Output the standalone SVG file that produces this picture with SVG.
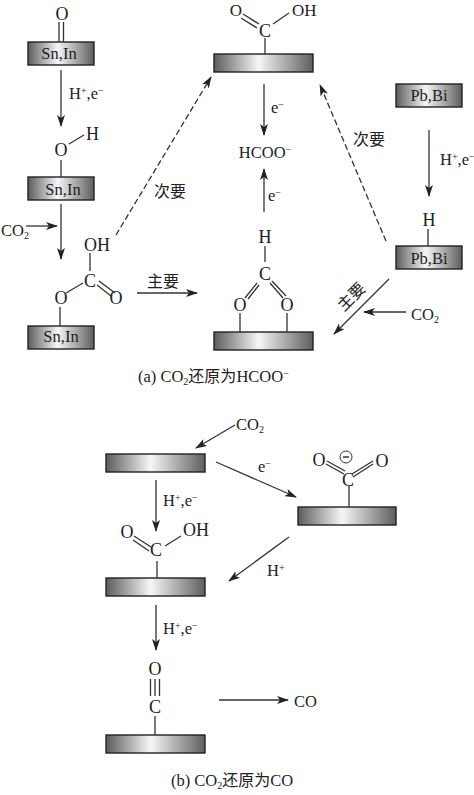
<svg xmlns="http://www.w3.org/2000/svg" width="474" height="795" viewBox="0 0 474 795">
<style>
text{font-family:"Liberation Serif","Noto Sans CJK SC",serif;font-size:16.5px;fill:#222}
.m{text-anchor:middle}
.t{font-size:18px}
.u{font-size:17px}
.s{font-size:10px}
.p{stroke:#222;stroke-width:1.4}
.b{fill:none;stroke:#333;stroke-width:1.3}
.a{fill:none;stroke:#333;stroke-width:1.3;marker-end:url(#h)}
.d{stroke-dasharray:6 3}
.c{font-family:"Noto Sans CJK SC","Liberation Serif",serif;font-size:16px}
</style>
<defs>
<linearGradient id="g1"><stop offset="0" stop-color="#5c5c5c"/><stop offset="0.45" stop-color="#f6f6f6"/><stop offset="1" stop-color="#5e5e5e"/></linearGradient>
<marker id="h" markerWidth="12" markerHeight="8" refX="11" refY="4" orient="auto" markerUnits="userSpaceOnUse"><path d="M0 0L12 4L0 8L3 4Z" fill="#222"/></marker>
</defs>
<g id="connectors">
<path class="a" d="M61 70V126"/>
<path class="a" d="M61 204V259"/>
<path class="a" d="M26 226H57"/>
<path class="a d" d="M116 235L211 77"/>
<path class="a" d="M137 293H197"/>
<path class="a" d="M264 84V135"/>
<path class="a" d="M264 212V169"/>
<path class="a d" d="M386 241L320 85"/>
<path class="a" d="M429 130V196"/>
<path class="a" d="M389 279L334 334"/>
<path class="a" d="M406 312H364"/>
<path class="a" d="M235 425L196 448"/>
<path class="a" d="M216 462L296 497"/>
<path class="a" d="M156 480V531"/>
<path class="a" d="M289 537L229 581"/>
<path class="a" d="M156 605V650"/>
<path class="a" d="M219 700H288"/>
</g>
<g id="sn-in-1"><rect class="p" x="28" y="42" width="66" height="23" fill="url(#g1)"/><text class="m" x="59" y="59">Sn,In</text><text class="m t" x="62" y="20">O</text><path class="b" d="M59 22V42M63.500 22V42"/></g>
<g id="sn-in-oh"><rect class="p" x="28" y="177" width="66" height="23" fill="url(#g1)"/><text class="m" x="63" y="195">Sn,In</text><text class="m t" x="61" y="156">O</text><text class="t" x="86" y="140">H</text><path class="b" d="M69 144L84 135M61 160V177"/></g>
<g id="sn-in-carbonate"><rect class="p" x="28" y="326" width="66" height="23" fill="url(#g1)"/><text class="m" x="61" y="342">Sn,In</text><text class="m t" x="97" y="251">OH</text><text class="m t" x="90" y="287">C</text><text class="m t" x="61" y="304">O</text><text class="m t" x="116" y="304">O</text><path class="b" d="M90 253V271M83 283L66 293M60 307V326M99 281L115 293M97 285L111 296"/></g>
<g id="plate-cooh"><rect class="p" x="214" y="54" width="99" height="18" fill="url(#g1)"/><text class="m u" x="236" y="16">O</text><text class="m t" x="265" y="37">C</text><text class="u" x="292" y="16">OH</text><path class="b" d="M243 14L259 24M241 18L257 28M273 24L289 13M265 38V54"/></g>
<g id="hcoo"><text class="m" x="265" y="158">HCOO<tspan class="s" dy="-5">−</tspan></text></g>
<g id="plate-bidentate"><rect class="p" x="214" y="332" width="99" height="18" fill="url(#g1)"/><text class="m t" x="265" y="243">H</text><text class="m t" x="265" y="280">C</text><text class="m t" x="240" y="311">O</text><text class="m t" x="287" y="311">O</text><path class="b" d="M265 246V262M257 283L245 298M259 285L248 299M270 283L283 298M272 281L286 296M240 313V332M287 313V332"/></g>
<g id="pb-bi-1"><rect class="p" x="396" y="84" width="66" height="23" fill="url(#g1)"/><text class="m" x="429" y="101">Pb,Bi</text></g>
<g id="pb-bi-h"><rect class="p" x="396" y="246" width="66" height="23" fill="url(#g1)"/><text class="m" x="429" y="264">Pb,Bi</text><text class="m t" x="429" y="226">H</text><path class="b" d="M428 229V246"/></g>
<g id="plate-b1"><rect class="p" x="106" y="454" width="99" height="18" fill="url(#g1)"/></g>
<g id="plate-b2"><rect class="p" x="298" y="507" width="98" height="18" fill="url(#g1)"/><text class="m t" x="319" y="466">O</text><text class="m t" x="348" y="486">C</text><text class="m t" x="382" y="467">O</text><circle cx="346" cy="457" r="6" fill="none" stroke="#333" stroke-width="1"/><path class="b" d="M343 457H349M326 464L344 474M327 461L345 471M352 474L373 461M353 477L373 464M349 486V507"/></g>
<g id="plate-b3"><rect class="p" x="106" y="578" width="99" height="18" fill="url(#g1)"/><text class="m t" x="127" y="538">O</text><text class="m t" x="156" y="556">C</text><text class="t" x="183" y="536">OH</text><path class="b" d="M134 536L151 547M133 540L149 551M165 546L181 536M157 561V578"/></g>
<g id="plate-b4"><rect class="p" x="106" y="735" width="99" height="18" fill="url(#g1)"/><text class="m t" x="155" y="675">O</text><text class="m t" x="155" y="713">C</text><path class="b" d="M150.500 679V696M155 679V696M159.500 679V696M155 716V735"/></g>
<g id="labels">
<text x="69" y="99">H<tspan class="s" dy="-5">+</tspan><tspan dy="5">,e</tspan><tspan class="s" dy="-5">−</tspan></text>
<text x="1" y="236">CO<tspan class="s" dy="3">2</tspan></text>
<text class="c" x="154" y="197">次要</text>
<text class="c" x="147" y="287">主要</text>
<text x="271" y="113">e<tspan class="s" dy="-5">−</tspan></text>
<text x="268" y="201">e<tspan class="s" dy="-5">−</tspan></text>
<text class="c" x="353" y="145">次要</text>
<text x="440" y="165">H<tspan class="s" dy="-5">+</tspan><tspan dy="5">,e</tspan><tspan class="s" dy="-5">−</tspan></text>
<text class="c" transform="translate(344 312) rotate(-45)">主要</text>
<text x="411" y="320">CO<tspan class="s" dy="3">2</tspan></text>
<text x="138" y="382">(a) CO<tspan class="s" dy="3">2</tspan><tspan class="c" dy="-3">还原为</tspan>HCOO<tspan class="s" dy="-5">−</tspan></text>
<text x="236" y="430">CO<tspan class="s" dy="3">2</tspan></text>
<text x="258" y="472">e<tspan class="s" dy="-5">−</tspan></text>
<text x="163" y="506">H<tspan class="s" dy="-5">+</tspan><tspan dy="5">,e</tspan><tspan class="s" dy="-5">−</tspan></text>
<text x="267" y="576">H<tspan class="s" dy="-5">+</tspan></text>
<text x="163" y="634">H<tspan class="s" dy="-5">+</tspan><tspan dy="5">,e</tspan><tspan class="s" dy="-5">−</tspan></text>
<text x="294" y="707">CO</text>
<text x="171" y="786">(b) CO<tspan class="s" dy="3">2</tspan><tspan class="c" dy="-3">还原为</tspan>CO</text>
</g>
</svg>
